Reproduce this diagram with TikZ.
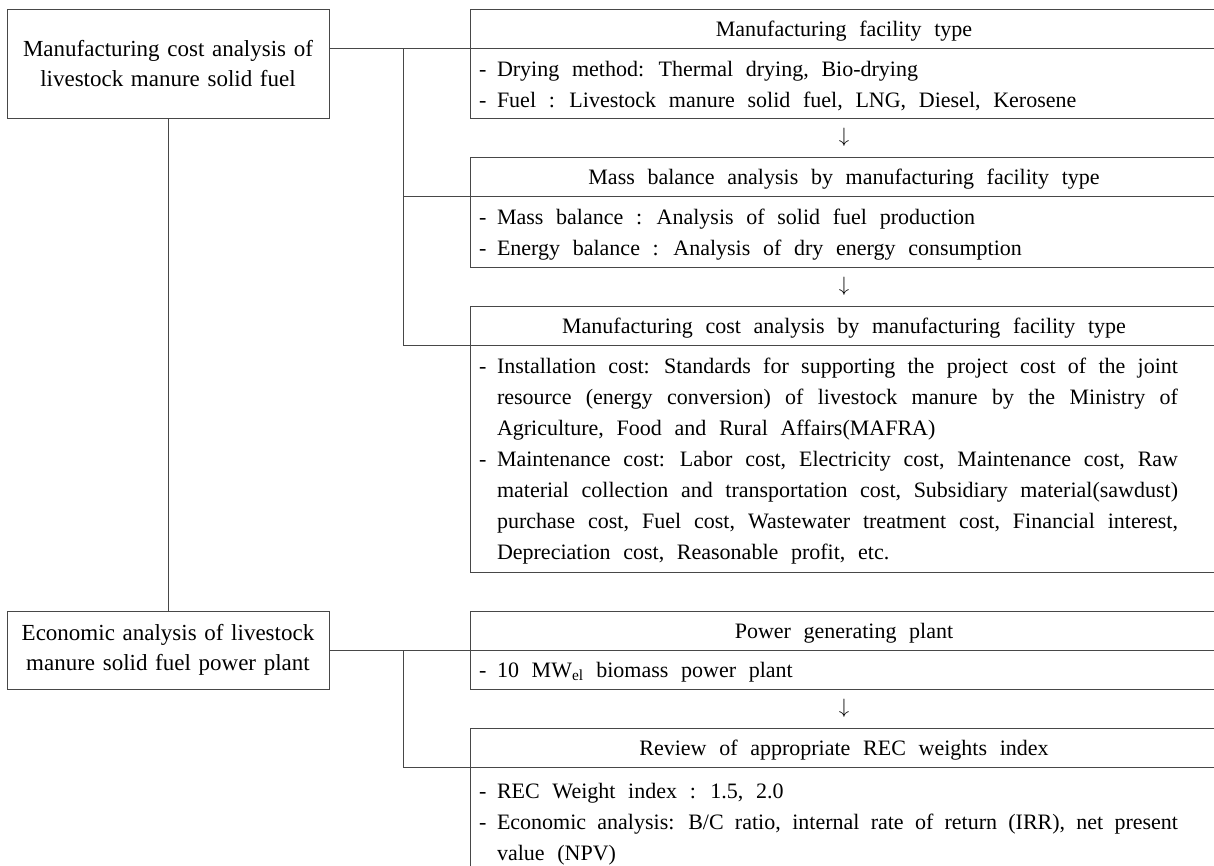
\documentclass[tikz,border=0pt]{standalone}
\usepackage{fontspec}
\setmainfont{Liberation Serif}
\usetikzlibrary{positioning}

\colorlet{linegray}{black!72}
\newcommand{\diagfont}{\fontsize{22}{31}\selectfont\spaceskip=12.7pt plus 6pt minus 3pt\relax}
\newcommand{\leftfont}{\fontsize{23}{30.5}\selectfont\spaceskip=13.5pt plus 4pt minus 3pt\relax}
\newcommand{\itemhead}{\hangindent=18pt\hangafter=1\rightskip=31pt\relax\makebox[18pt][l]{-}}
\newcommand{\dashitem}{\par\noindent\itemhead}
\newcommand{\bodyend}{\par\kern-6pt\relax}

\begin{document}
\begin{tikzpicture}[
    x=1pt, y=-1pt,
    node distance=0pt,
    every node/.style={font=\diagfont, outer sep=0pt},
    leftbox/.style={draw=linegray, line width=0.9pt, font=\leftfont, text width=300pt, align=center, minimum width=322pt, inner xsep=11pt},
    header/.style={draw=linegray, line width=0.9pt, minimum width=748pt, minimum height=39pt, inner sep=0pt, text height=19pt, text depth=3pt},
    bodybox/.style={draw=linegray, line width=0.9pt, text width=730pt, inner xsep=9pt, inner ysep=0pt, align=justify},
    arrowrow/.style={minimum width=748pt, minimum height=39pt, inner sep=0pt},
    link/.style={draw=linegray, line width=0.9pt}
]
\path[use as bounding box, clip] (0,0) rectangle (1214,865);

% left column
\node[leftbox, anchor=north west, minimum height=109pt] (leftA) at (7,9) {Manufacturing cost analysis of\\livestock manure solid fuel};

% manufacturing cost chain
\node[header, anchor=north west] (hdrA) at (470,9) {Manufacturing facility type};
\node[bodybox, below=of hdrA, minimum height=70pt] (bodyA) {\itemhead Drying method: Thermal drying, Bio-drying
\dashitem Fuel : Livestock manure solid fuel, LNG, Diesel, Kerosene\bodyend};
\node[arrowrow, below=of bodyA] (arrAB) {$\downarrow$};

\node[header, below=of arrAB] (hdrB) {Mass balance analysis by manufacturing facility type};
\node[bodybox, below=of hdrB, minimum height=71pt] (bodyB) {\itemhead Mass balance : Analysis of solid fuel production
\dashitem Energy balance : Analysis of dry energy consumption\bodyend};
\node[arrowrow, below=of bodyB] (arrBC) {$\downarrow$};

\node[header, below=of arrBC] (hdrC) {Manufacturing cost analysis by manufacturing facility type};
\node[bodybox, below=of hdrC, minimum height=227pt] (bodyC) {\itemhead Installation cost: Standards for supporting the project cost of the joint\linebreak resource (energy conversion) of livestock manure by the Ministry of\linebreak Agriculture, Food and Rural Affairs(MAFRA)
\dashitem Maintenance cost: Labor cost, Electricity cost, Maintenance cost, Raw\linebreak material collection and transportation cost, Subsidiary material(sawdust)\linebreak purchase cost, Fuel cost, Wastewater treatment cost, Financial interest,\linebreak Depreciation cost, Reasonable profit, etc.\bodyend};

% power plant chain
\node[header, below=39pt of bodyC] (hdrD) {Power generating plant};
\node[bodybox, below=of hdrD, minimum height=39pt] (bodyD) {\itemhead 10 MW\textsubscript{el} biomass power plant\bodyend};
\node[arrowrow, below=of bodyD] (arrDE) {$\downarrow$};

\node[header, below=of arrDE] (hdrE) {Review of appropriate REC weights index};
\node[bodybox, below=of hdrE, minimum height=114pt] (bodyE) {\itemhead REC Weight index : 1.5, 2.0
\dashitem Economic analysis: B/C ratio, internal rate of return (IRR), net present\linebreak value (NPV)\par};

\node[leftbox, anchor=west, minimum height=78pt] (leftB) at (leftA.west |- hdrD.south) {Economic analysis of livestock\\manure solid fuel power plant};

% connectors
\coordinate (splitA) at (403,0);
\draw[link] (leftA.east |- hdrA.south) -- (hdrA.south west);
\draw[link] (splitA |- hdrA.south) -- (splitA |- hdrC.south) -- (hdrC.south west);
\draw[link] (splitA |- hdrB.south) -- (hdrB.south west);
\draw[link] (leftA.south) -- (leftB.north);
\draw[link] (leftB.east) -- (hdrD.south west);
\draw[link] (splitA |- hdrD.south) -- (splitA |- hdrE.south) -- (hdrE.south west);

\end{tikzpicture}
\end{document}
